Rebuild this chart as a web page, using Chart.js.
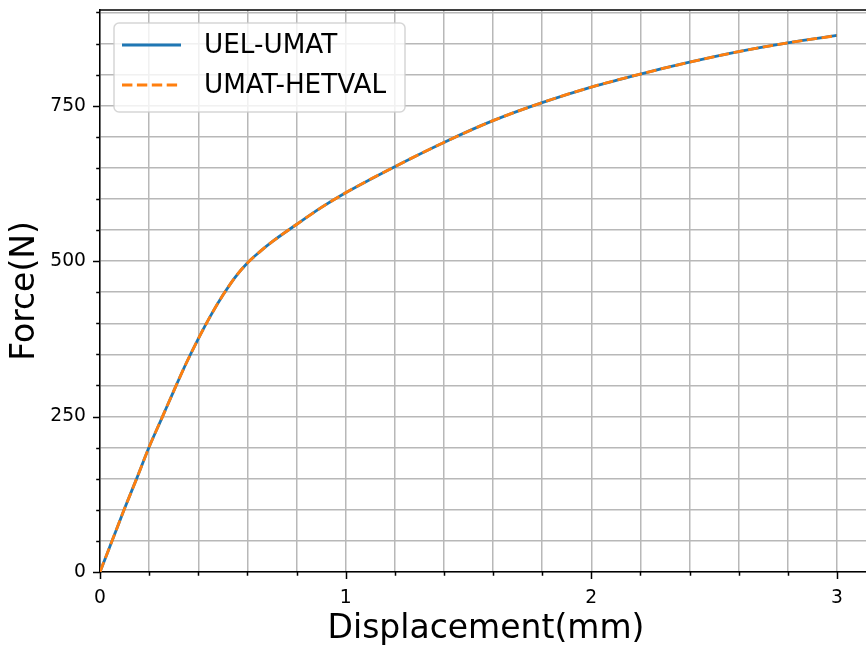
<!DOCTYPE html>
<html><head><meta charset="utf-8">
<script src="https://cdn.jsdelivr.net/npm/chart.js@4.4.1/dist/chart.umd.min.js"></script>
<style>
html,body{margin:0;padding:0;background:#fff;overflow:hidden;width:866px;height:645px;}
#wrap{width:876px;height:645px;position:relative;}
canvas{display:block;}
</style></head><body>
<div id="wrap"><canvas id="c" width="876" height="645"></canvas></div>
<script>
// ---- data ----
const displacement    = [0, 0.05, 0.1, 0.15, 0.2, 0.25, 0.3, 0.35, 0.4, 0.45, 0.5, 0.55, 0.6, 0.65, 0.7, 0.8, 0.9, 1.0, 1.2, 1.4, 1.6, 1.8, 2.0, 2.2, 2.4, 2.6, 2.8, 3.0];
const forceUelUmat    = [0, 51, 102, 151, 201, 246, 291, 335, 375, 412, 445, 474, 497, 515, 531, 559, 586, 610, 652, 691, 726, 755, 780, 801, 820, 837, 851, 863];
const forceUmatHetval = [0, 51, 102, 151, 201, 246, 291, 335, 375, 412, 445, 474, 497, 515, 531, 559, 586, 610, 652, 691, 726, 755, 780, 801, 820, 837, 851, 863];
const seriesLabels = ['UEL-UMAT', 'UMAT-HETVAL'];
const xTickLabels = [0, 1, 2, 3];
const yTickLabels = [0, 250, 500, 750];
const xTitle = 'Displacement(mm)';
const yTitle = 'Force(N)';

const FONT = "'DejaVu Sans', sans-serif";
const toPts = ys => displacement.map((x, i) => ({x: x, y: ys[i]}));
const near = (v, arr) => arr.some(a => Math.abs(a - v) < 1e-6);

const decorations = {
  id: 'decorations',
  afterDraw(chart) {
    const ctx = chart.ctx, a = chart.chartArea;
    const xs = chart.scales.x, ys = chart.scales.y;
    ctx.save();
    // spines top & right
    ctx.strokeStyle = '#000';
    ctx.lineWidth = 1.5;
    ctx.beginPath();
    ctx.moveTo(a.left, a.top); ctx.lineTo(a.right, a.top);
    ctx.moveTo(a.right, a.top); ctx.lineTo(a.right, a.bottom);
    ctx.stroke();
    // tick marks (major longer than minor)
    ctx.beginPath();
    xs.ticks.forEach(t => {
      const px = Math.round(xs.getPixelForValue(t.value)) + 0.5;
      const len = near(t.value, xTickLabels) ? 7 : 3.8;
      ctx.moveTo(px, a.bottom); ctx.lineTo(px, a.bottom + len);
    });
    ys.ticks.forEach(t => {
      const py = Math.round(ys.getPixelForValue(t.value)) + 0.5;
      const len = near(t.value, yTickLabels) ? 7 : 3.8;
      ctx.moveTo(a.left, py); ctx.lineTo(a.left - len, py);
    });
    ctx.stroke();
    // legend box (matplotlib style, inside the axes, upper left)
    const lx = a.left + 14, ly = a.top + 13, lw = 291, lh = 89, r = 5;
    ctx.beginPath();
    ctx.roundRect(lx, ly, lw, lh, r);
    ctx.fillStyle = 'rgba(255,255,255,0.8)';
    ctx.fill();
    ctx.strokeStyle = 'rgba(204,204,204,0.8)';
    ctx.lineWidth = 1.5;
    ctx.stroke();
    chart.data.datasets.forEach((ds, i) => {
      const yy = ly + 22 + 40 * i;
      ctx.beginPath();
      ctx.setLineDash(ds.borderDash || []);
      ctx.strokeStyle = ds.borderColor;
      ctx.lineWidth = ds.borderWidth;
      ctx.moveTo(lx + 8, yy); ctx.lineTo(lx + 67, yy);
      ctx.stroke();
      ctx.setLineDash([]);
      ctx.fillStyle = '#000';
      ctx.font = '26.25px ' + FONT;
      ctx.textBaseline = 'middle';
      ctx.textAlign = 'left';
      ctx.fillText(ds.label, lx + 90, yy + 1);
    });
    ctx.restore();
  }
};

new Chart(document.getElementById('c'), {
  type: 'line',
  data: {
    datasets: [
      {label: seriesLabels[0], data: toPts(forceUelUmat), borderColor: '#1f77b4', borderWidth: 2.8, order: 1,
       pointRadius: 0, fill: false, cubicInterpolationMode: 'monotone'},
      {label: seriesLabels[1], data: toPts(forceUmatHetval), borderColor: '#ff7f0e', borderWidth: 2.8, order: 0,
       borderDash: [10.4, 4.5], pointRadius: 0, fill: false, cubicInterpolationMode: 'monotone'}
    ]
  },
  options: {
    responsive: false,
    animation: false,
    devicePixelRatio: 1,
    layout: {padding: {top: 10, right: 4, left: 0, bottom: 0}},
    plugins: {legend: {display: false}, tooltip: {enabled: false}},
    scales: {
      x: {
        type: 'linear', min: 0, max: 3.143,
        afterFit(s) { s.height = 73; s.paddingLeft = 0; s.paddingRight = 0; },
        border: {display: true, color: '#000', width: 1.5},
        grid: {color: '#b8b8b8', lineWidth: 1.5, drawTicks: false},
        ticks: {stepSize: 0.2, includeBounds: false, autoSkip: false, maxRotation: 0, padding: 15,
                color: '#000', font: {family: FONT, size: 18.7},
                callback: v => near(v, xTickLabels) ? String(Math.round(v)) : ''},
        title: {display: true, text: xTitle, color: '#000', font: {family: FONT, size: 33}, padding: {top: 0, bottom: -4}}
      },
      y: {
        type: 'linear', min: 0, max: 904,
        afterFit(s) { s.width = 100; s.paddingTop = 0; s.paddingBottom = 0; },
        border: {display: true, color: '#000', width: 1.5},
        grid: {color: '#b8b8b8', lineWidth: 1.5, drawTicks: false},
        ticks: {stepSize: 50, includeBounds: false, autoSkip: false, padding: 14,
                color: '#000', font: {family: FONT, size: 18.7},
                callback: v => near(v, yTickLabels) ? String(v) : ''},
        title: {display: true, text: yTitle, color: '#000', font: {family: FONT, size: 33}, padding: {top: 6, bottom: 0}}
      }
    }
  },
  plugins: [decorations]
});
</script>
</body></html>
